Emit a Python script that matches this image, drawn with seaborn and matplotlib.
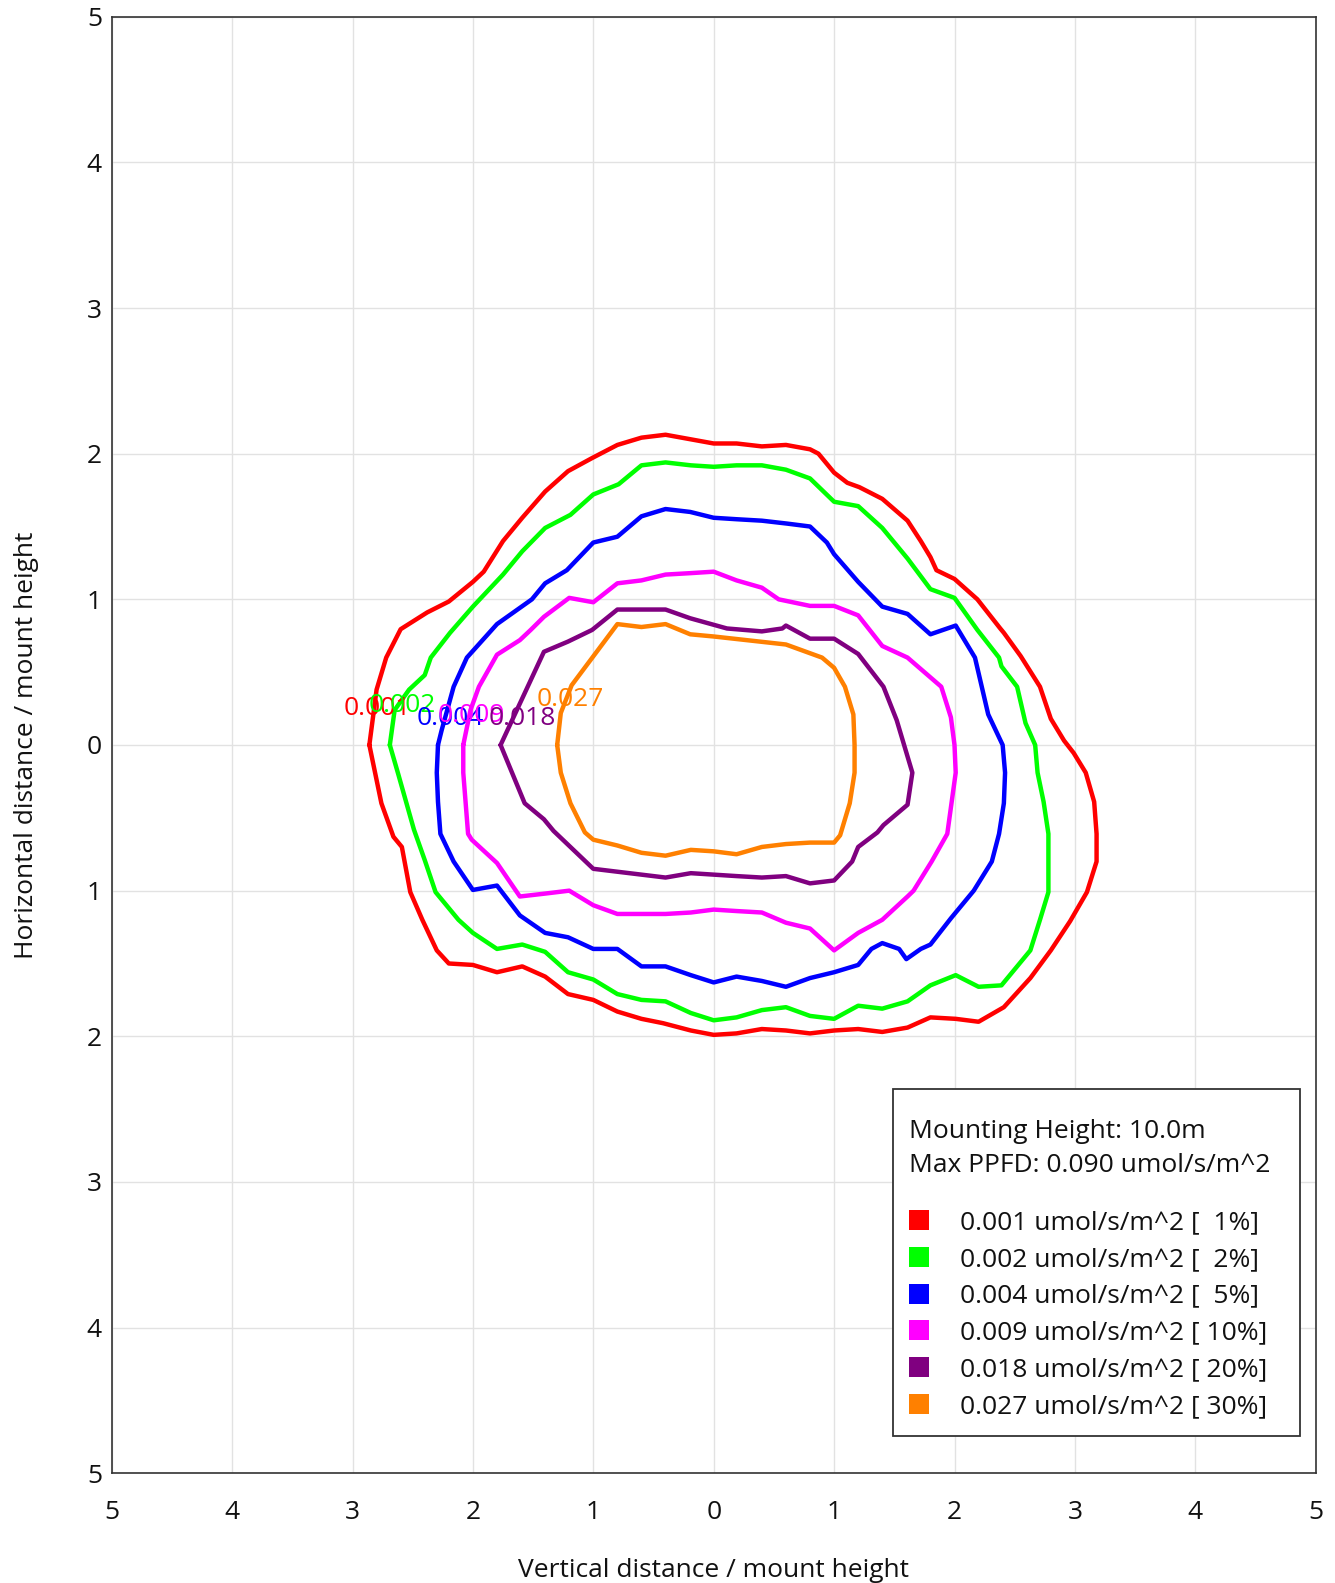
import numpy as np
import pandas as pd
import matplotlib
matplotlib.use("Agg")
import matplotlib.pyplot as plt
from matplotlib.patches import Rectangle
import seaborn as sns

# ---------------- data ----------------
levels = ["0.001", "0.002", "0.004", "0.009", "0.018", "0.027"]
percents = ["  1%", "  2%", "  5%", " 10%", " 20%", " 30%"]
colors = ["#ff0000", "#00ff00", "#0000ff", "#ff00ff", "#800080", "#ff8000"]

red_x = [-2.86, -2.80, -2.72, -2.60, -2.38, -2.20, -2.00, -1.91, -1.75, -1.59, -1.40, -1.21, -1.01,
         -0.80, -0.60, -0.40, -0.20, 0.00, 0.19, 0.40, 0.60, 0.80, 0.87, 1.00, 1.11, 1.21, 1.40, 1.61,
         1.72, 1.80, 1.85, 2.00, 2.19, 2.38, 2.41, 2.55, 2.71, 2.80, 2.91, 2.99, 3.09, 3.16, 3.18, 3.18,
         3.10, 2.96, 2.80, 2.63, 2.41, 2.20, 2.01, 1.80, 1.61, 1.40, 1.20, 1.00, 0.80, 0.60, 0.40, 0.19,
         0.00, -0.19, -0.42, -0.60, -0.80, -1.00, -1.21, -1.40, -1.59, -1.80, -2.00, -2.20, -2.30, -2.42,
         -2.52, -2.59, -2.66, -2.76, -2.86]
red_y = [0.00, 0.38, 0.60, 0.795, 0.91, 0.985, 1.12, 1.19, 1.40, 1.56, 1.74, 1.88, 1.97,
         2.06, 2.11, 2.13, 2.10, 2.07, 2.07, 2.05, 2.06, 2.03, 2.00, 1.87, 1.80, 1.77, 1.69, 1.54,
         1.40, 1.29, 1.20, 1.14, 1.00, 0.80, 0.77, 0.61, 0.40, 0.18, 0.03, -0.055, -0.19, -0.39, -0.61, -0.80,
         -1.01, -1.21, -1.41, -1.60, -1.80, -1.90, -1.88, -1.87, -1.94, -1.97, -1.95, -1.96, -1.98, -1.96, -1.95, -1.98,
         -1.99, -1.96, -1.91, -1.88, -1.83, -1.75, -1.71, -1.59, -1.52, -1.56, -1.51, -1.50, -1.41, -1.20,
         -1.01, -0.70, -0.63, -0.40, 0.00]

green_x = [-2.69, -2.65, -2.53, -2.40, -2.35, -2.19, -2.00, -1.75, -1.59, -1.40, -1.19, -1.00, -0.79,
           -0.60, -0.40, -0.19, 0.00, 0.19, 0.40, 0.60, 0.80, 1.00, 1.20, 1.40, 1.52, 1.61, 1.80, 2.00,
           2.19, 2.37, 2.39, 2.52, 2.59, 2.67, 2.69, 2.74, 2.78, 2.78, 2.71, 2.63, 2.39, 2.20, 2.01, 1.80,
           1.61, 1.40, 1.20, 1.00, 0.80, 0.60, 0.40, 0.19, 0.00, -0.19, -0.40, -0.60, -0.80, -1.00, -1.21,
           -1.40, -1.59, -1.80, -2.00, -2.12, -2.31, -2.40, -2.49, -2.62, -2.69]
green_y = [0.00, 0.24, 0.38, 0.48, 0.60, 0.77, 0.95, 1.17, 1.33, 1.49, 1.58, 1.72, 1.79,
           1.92, 1.94, 1.92, 1.91, 1.92, 1.92, 1.89, 1.83, 1.67, 1.64, 1.49, 1.37, 1.28, 1.07, 1.01,
           0.79, 0.60, 0.54, 0.40, 0.15, 0.00, -0.19, -0.39, -0.61, -1.01, -1.20, -1.41, -1.65, -1.66, -1.58, -1.65,
           -1.76, -1.81, -1.79, -1.88, -1.86, -1.80, -1.82, -1.87, -1.89, -1.84, -1.76, -1.75, -1.71, -1.61, -1.56,
           -1.42, -1.37, -1.40, -1.29, -1.20, -1.01, -0.79, -0.58, -0.20, 0.00]

blue_x = [-2.29, -2.26, -2.16, -2.05, -1.80, -1.51, -1.40, -1.22, -1.00, -0.80, -0.60, -0.40, -0.195,
          0.00, 0.19, 0.40, 0.61, 0.80, 0.94, 1.00, 1.20, 1.40, 1.61, 1.80, 2.01, 2.17, 2.28, 2.40,
          2.42, 2.41, 2.37, 2.31, 2.16, 1.97, 1.80, 1.72, 1.60, 1.54, 1.40, 1.31, 1.20, 1.00, 0.80, 0.60,
          0.40, 0.19, 0.00, -0.19, -0.40, -0.60, -0.80, -1.00, -1.21, -1.40, -1.61, -1.80, -2.00, -2.16,
          -2.27, -2.29, -2.30, -2.29]
blue_y = [0.00, 0.10, 0.40, 0.60, 0.83, 1.00, 1.11, 1.20, 1.39, 1.43, 1.57, 1.62, 1.60,
          1.56, 1.55, 1.54, 1.52, 1.50, 1.39, 1.31, 1.12, 0.95, 0.90, 0.76, 0.82, 0.60, 0.21, 0.00,
          -0.19, -0.40, -0.61, -0.80, -1.00, -1.19, -1.37, -1.40, -1.47, -1.40, -1.36, -1.40, -1.51, -1.56, -1.60, -1.66,
          -1.62, -1.59, -1.63, -1.58, -1.52, -1.52, -1.40, -1.40, -1.32, -1.29, -1.17, -0.965, -0.995, -0.80,
          -0.61, -0.39, -0.19, 0.00]

magenta_x = [-2.08, -2.02, -1.95, -1.80, -1.61, -1.52, -1.41, -1.20, -1.00, -0.80, -0.60, -0.40, -0.19,
             0.00, 0.19, 0.40, 0.54, 0.80, 1.00, 1.20, 1.40, 1.61, 1.89, 1.97, 2.00, 2.01, 1.94, 1.81,
             1.66, 1.61, 1.40, 1.20, 1.00, 0.80, 0.60, 0.40, 0.19, 0.00, -0.19, -0.40, -0.60, -0.80, -1.00,
             -1.20, -1.40, -1.61, -1.80, -2.01, -2.04, -2.08, -2.08]
magenta_y = [0.00, 0.24, 0.40, 0.62, 0.72, 0.79, 0.88, 1.01, 0.98, 1.11, 1.13, 1.17, 1.18,
             1.19, 1.13, 1.08, 1.00, 0.955, 0.955, 0.89, 0.68, 0.60, 0.40, 0.19, 0.00, -0.19, -0.61, -0.80,
             -1.00, -1.04, -1.20, -1.29, -1.41, -1.26, -1.22, -1.15, -1.14, -1.13, -1.15, -1.16, -1.16, -1.16, -1.10,
             -1.00, -1.02, -1.04, -0.81, -0.65, -0.61, -0.19, 0.00]

purple_x = [-1.77, -1.41, -1.21, -1.01, -0.80, -0.60, -0.40, -0.195, 0.11, 0.40, 0.57, 0.60, 0.80,
            1.00, 1.20, 1.41, 1.52, 1.65, 1.61, 1.41, 1.36, 1.20, 1.15, 1.00, 0.80, 0.60, 0.40, 0.19,
            0.00, -0.19, -0.40, -0.60, -0.80, -1.00, -1.33, -1.41, -1.57, -1.77]
purple_y = [0.00, 0.64, 0.71, 0.79, 0.93, 0.93, 0.93, 0.87, 0.80, 0.78, 0.80, 0.82, 0.73,
            0.73, 0.625, 0.40, 0.17, -0.19, -0.41, -0.55, -0.60, -0.70, -0.80, -0.93, -0.95, -0.90, -0.91, -0.90,
            -0.89, -0.88, -0.91, -0.89, -0.87, -0.85, -0.59, -0.51, -0.40, 0.00]

orange_x = [-1.30, -1.27, -1.18, -0.80, -0.60, -0.40, -0.195, 0.00, 0.60, 0.90, 1.00, 1.09, 1.16,
            1.17, 1.17, 1.13, 1.05, 1.00, 0.80, 0.60, 0.40, 0.19, 0.00, -0.19, -0.40, -0.60, -0.80,
            -1.00, -1.07, -1.19, -1.27, -1.30]
orange_y = [0.00, 0.22, 0.41, 0.83, 0.81, 0.83, 0.76, 0.745, 0.69, 0.60, 0.53, 0.40, 0.21,
            0.00, -0.19, -0.40, -0.62, -0.67, -0.67, -0.68, -0.70, -0.75, -0.73, -0.72, -0.76, -0.74, -0.69,
            -0.65, -0.60, -0.40, -0.19, 0.00]

# contour label anchors (left end, vertical centre)
label_x = [-3.07, -2.87, -2.47, -2.29, -1.87, -1.47]
label_y = [0.25, 0.27, 0.18, 0.20, 0.18, 0.31]

tick_values = [-5, -4, -3, -2, -1, 0, 1, 2, 3, 4, 5]
tick_labels = ["5", "4", "3", "2", "1", "0", "1", "2", "3", "4", "5"]

mount_height = "10.0m"
max_ppfd = "0.090 umol/s/m^2"

# ---------------- figure ----------------
sns.set_style("white")
plt.rcParams["font.family"] = ["Open Sans", "DejaVu Sans"]

FS = 19
W, H = 1335, 1583
fig = plt.figure(figsize=(W / 100, H / 100), dpi=100)
ax = fig.add_axes([111.7 / W, (H - 1473.3) / H, 1204 / W, 1456.6 / H])

contours = [(red_x, red_y), (green_x, green_y), (blue_x, blue_y),
            (magenta_x, magenta_y), (purple_x, purple_y), (orange_x, orange_y)]
for (cx, cy), col in zip(contours, colors):
    df = pd.DataFrame({"x": cx, "y": cy})
    sns.lineplot(data=df, x="x", y="y", sort=False, estimator=None, color=col,
                 linewidth=3.2, ax=ax, zorder=3)

for lx, ly, txt, col in zip(label_x, label_y, levels, colors):
    ax.text(lx, ly, txt, color=col, fontsize=FS, ha="left", va="center", zorder=4)

ax.set_xlim(-5, 5)
ax.set_ylim(-5, 5)
ax.set_xticks(tick_values)
ax.set_xticklabels(tick_labels)
ax.set_yticks(tick_values)
ax.set_yticklabels(tick_labels)
ax.tick_params(axis="both", length=0, labelsize=FS, colors="#111111")
ax.tick_params(axis="x", pad=19)
ax.tick_params(axis="y", pad=7)
ax.grid(True, color="#e2e2e2", linewidth=1)
ax.set_axisbelow(True)
for s in ax.spines.values():
    s.set_color("#333333")
    s.set_linewidth(1.2)

ax.set_xlabel("Vertical distance / mount height", fontsize=FS, color="#111111")
ax.set_ylabel("Horizontal distance / mount height", fontsize=FS, color="#111111")
ax.xaxis.set_label_coords(0.5, -0.058)
ax.yaxis.set_label_coords(-0.060, 0.5)

# ---------------- legend box ----------------
def fx(px):
    return (px - 111.7) / 1204


def fy(py):
    return (1473.3 - py) / 1456.6


box = Rectangle((fx(892.7), fy(1436)), fx(1300) - fx(892.7), fy(1089) - fy(1436),
                transform=ax.transAxes, facecolor="white", edgecolor="#333333",
                linewidth=1.3, zorder=10)
ax.add_patch(box)
ax.text(fx(909), fy(1131), "Mounting Height: " + mount_height, transform=ax.transAxes,
        fontsize=FS, ha="left", va="center", color="#111111", zorder=11)
ax.text(fx(909), fy(1166), "Max PPFD: " + max_ppfd, transform=ax.transAxes,
        fontsize=FS, ha="left", va="center", color="#111111", zorder=11)
row0, step = 1220, 36.8
for i, (lev, pc, col) in enumerate(zip(levels, percents, colors)):
    yy = fy(row0 + i * step)
    ax.scatter([fx(919)], [yy], marker="s", s=14.4 ** 2, color=col, transform=ax.transAxes,
               zorder=11, linewidths=0)
    ax.text(fx(960), fy(row0 + 2.5 + i * step), f"{lev} umol/s/m^2 [{pc}]", transform=ax.transAxes,
            fontsize=FS, ha="left", va="center", color="#111111", zorder=11)

fig.savefig("out.png", dpi=100, facecolor="white")
